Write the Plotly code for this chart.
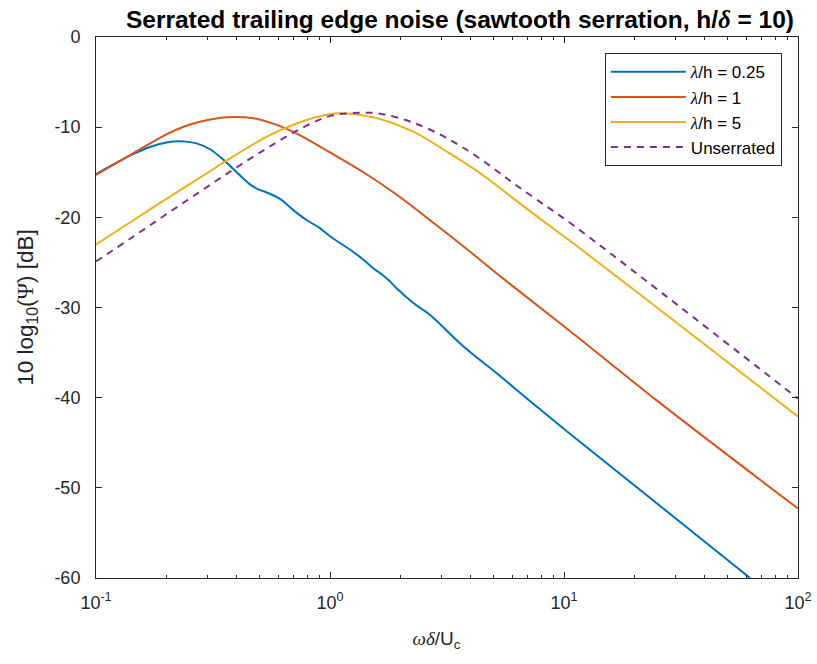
import plotly.graph_objects as go

# ---- data ----
x_unserrated = [0.1, 0.144, 0.2, 0.278, 0.386, 0.537, 0.745, 1.0, 1.22, 1.41, 1.64, 2.27, 3.15, 4.38, 6.07, 8.43, 10.6, 100]
y_unserrated = [-24.9, -22.15, -19.65, -17.15, -14.7, -12.35, -10.2, -8.75, -8.45, -8.4, -8.5, -9.5, -11.2, -13.5, -16.2, -18.8, -20.6, -40.1]

x_lam5 = [0.1, 0.144, 0.2, 0.278, 0.386, 0.537, 0.745, 1.0, 1.1, 1.22, 1.64, 2.27, 3.15, 4.38, 6.07, 8.43, 10.6, 100]
y_lam5 = [-23.0, -20.35, -17.95, -15.6, -13.25, -11.05, -9.45, -8.55, -8.45, -8.5, -9.1, -10.5, -12.7, -15.1, -17.9, -20.7, -22.6, -42.1]

x_lam1 = [0.1, 0.144, 0.2, 0.24, 0.278, 0.362, 0.47, 0.592, 0.745, 1.0, 1.39, 1.93, 2.67, 3.71, 5.5, 10.6, 24.9, 100]
y_lam1 = [-15.3, -12.9, -10.8, -9.9, -9.4, -8.9, -9.0, -9.75, -10.9, -12.8, -15.0, -17.5, -20.3, -23.2, -26.8, -32.6, -40.3, -52.3]

x_lam025 = [0.1, 0.144, 0.17, 0.2, 0.229, 0.269, 0.307, 0.35, 0.399, 0.455, 0.494, 0.537, 0.611, 0.697, 0.794,
            0.906, 1.0, 1.22, 1.39, 1.54, 1.64, 1.77, 1.93, 2.27, 2.67, 3.71, 5.16, 7.17, 10.6, 62.4]
y_lam025 = [-15.2, -13.0, -12.2, -11.7, -11.57, -11.8, -12.45, -13.6, -15.0, -16.35, -16.9, -17.25, -17.95, -19.2, -20.3,
            -21.2, -22.1, -23.6, -24.7, -25.7, -26.2, -26.9, -27.9, -29.5, -30.8, -34.3, -37.3, -40.4, -44.0, -60.0]

x_tickvals = [0.1, 1, 10, 100]
x_ticktext = ["10<sup>-1</sup>", "10<sup>0</sup>", "10<sup>1</sup>", "10<sup>2</sup>"]
x_minor = [0.2, 0.3, 0.4, 0.5, 0.6, 0.7, 0.8, 0.9, 2, 3, 4, 5, 6, 7, 8, 9, 20, 30, 40, 50, 60, 70, 80, 90]
y_tickvals = [0, -10, -20, -30, -40, -50, -60]
y_ticktext = ["0", "-10", "-20", "-30", "-40", "-50", "-60"]

SERIF_IT = "font-family:'Liberation Serif'; font-style:italic"

series = [
    (x_lam025, y_lam025, f"<span style=\"{SERIF_IT}\">λ</span>/h = 0.25", "#0072BD", "solid"),
    (x_lam1, y_lam1, f"<span style=\"{SERIF_IT}\">λ</span>/h = 1", "#D95319", "solid"),
    (x_lam5, y_lam5, f"<span style=\"{SERIF_IT}\">λ</span>/h = 5", "#EDB120", "solid"),
    (x_unserrated, y_unserrated, "Unserrated", "#7E2F8E", "7px,6px"),
]

fig = go.Figure()
for xs, ys, name, color, dash in series:
    fig.add_trace(go.Scatter(
        x=xs, y=ys, name=name, mode="lines",
        line=dict(color=color, width=2, dash=dash, shape="spline", smoothing=1.0),
    ))

# helper trace so the mirrored top / right axes carry ticks (incl. minor ticks)
fig.add_trace(go.Scatter(x=[None], y=[None], xaxis="x2", yaxis="y2", showlegend=False, hoverinfo="skip"))

axis_color = "#262626"
font_main = "Liberation Sans, Arial, sans-serif"

fig.update_layout(
    width=817, height=664,
    margin=dict(l=96, r=19, t=37, b=86, autoexpand=False),
    paper_bgcolor="white", plot_bgcolor="white",
    font=dict(family=font_main, size=18, color=axis_color),
    title=dict(
        text=f"<b>Serrated trailing edge noise (sawtooth serration, h/<span style=\"{SERIF_IT}\">δ</span> = 10)</b>",
        x=0.5185, xref="paper", xanchor="center", y=0.971, yanchor="middle",
        font=dict(size=24.5, color="black", family=font_main),
    ),
    showlegend=True,
    legend=dict(
        x=0.977, y=0.97, xanchor="right", yanchor="top",
        bgcolor="white", bordercolor=axis_color, borderwidth=1,
        font=dict(size=17, color="black"),
        itemwidth=75,
    ),
    xaxis=dict(
        type="log", range=[-1, 2], automargin=False,
        tickmode="array", tickvals=x_tickvals, ticktext=x_ticktext,
        ticks="inside", ticklen=6, tickwidth=1, tickcolor=axis_color,
        minor=dict(ticks="inside", ticklen=3, tickcolor=axis_color, tickmode="array", tickvals=x_minor, showgrid=False),
        showline=True, linecolor=axis_color, linewidth=1, mirror=True,
        showgrid=False, zeroline=False,
        ticklabelstandoff=8,
        title=dict(
            text=f"<span style=\"{SERIF_IT}\">ωδ</span>/U<sub>c</sub>&#160;&#160;&#160;&#160;",
            font=dict(size=19, color=axis_color), standoff=20,
        ),
    ),
    yaxis=dict(
        range=[-60, 0], automargin=False,
        tickmode="array", tickvals=y_tickvals, ticktext=y_ticktext,
        ticks="inside", ticklen=6, tickwidth=1, tickcolor=axis_color,
        showline=True, linecolor=axis_color, linewidth=1, mirror=True,
        showgrid=False, zeroline=False,
        ticklabelstandoff=11,
        title=dict(
            text="10 log<sub>10</sub>(<span style=\"font-family:'Liberation Serif'\">Ψ</span>) [dB]",
            font=dict(size=22.5, color=axis_color), standoff=14,
        ),
    ),
    xaxis2=dict(
        type="log", range=[-1, 2], overlaying="x", side="top", matches="x", automargin=False,
        tickmode="array", tickvals=x_tickvals, showticklabels=False,
        ticks="inside", ticklen=6, tickwidth=1, tickcolor=axis_color,
        minor=dict(ticks="inside", ticklen=3, tickcolor=axis_color, tickmode="array", tickvals=x_minor, showgrid=False),
        showline=False, showgrid=False, zeroline=False,
    ),
    yaxis2=dict(
        range=[-60, 0], overlaying="y", side="right", matches="y", automargin=False,
        tickmode="array", tickvals=y_tickvals, showticklabels=False,
        ticks="inside", ticklen=6, tickwidth=1, tickcolor=axis_color,
        showline=False, showgrid=False, zeroline=False,
    ),
)

fig.write_html("out.html")
